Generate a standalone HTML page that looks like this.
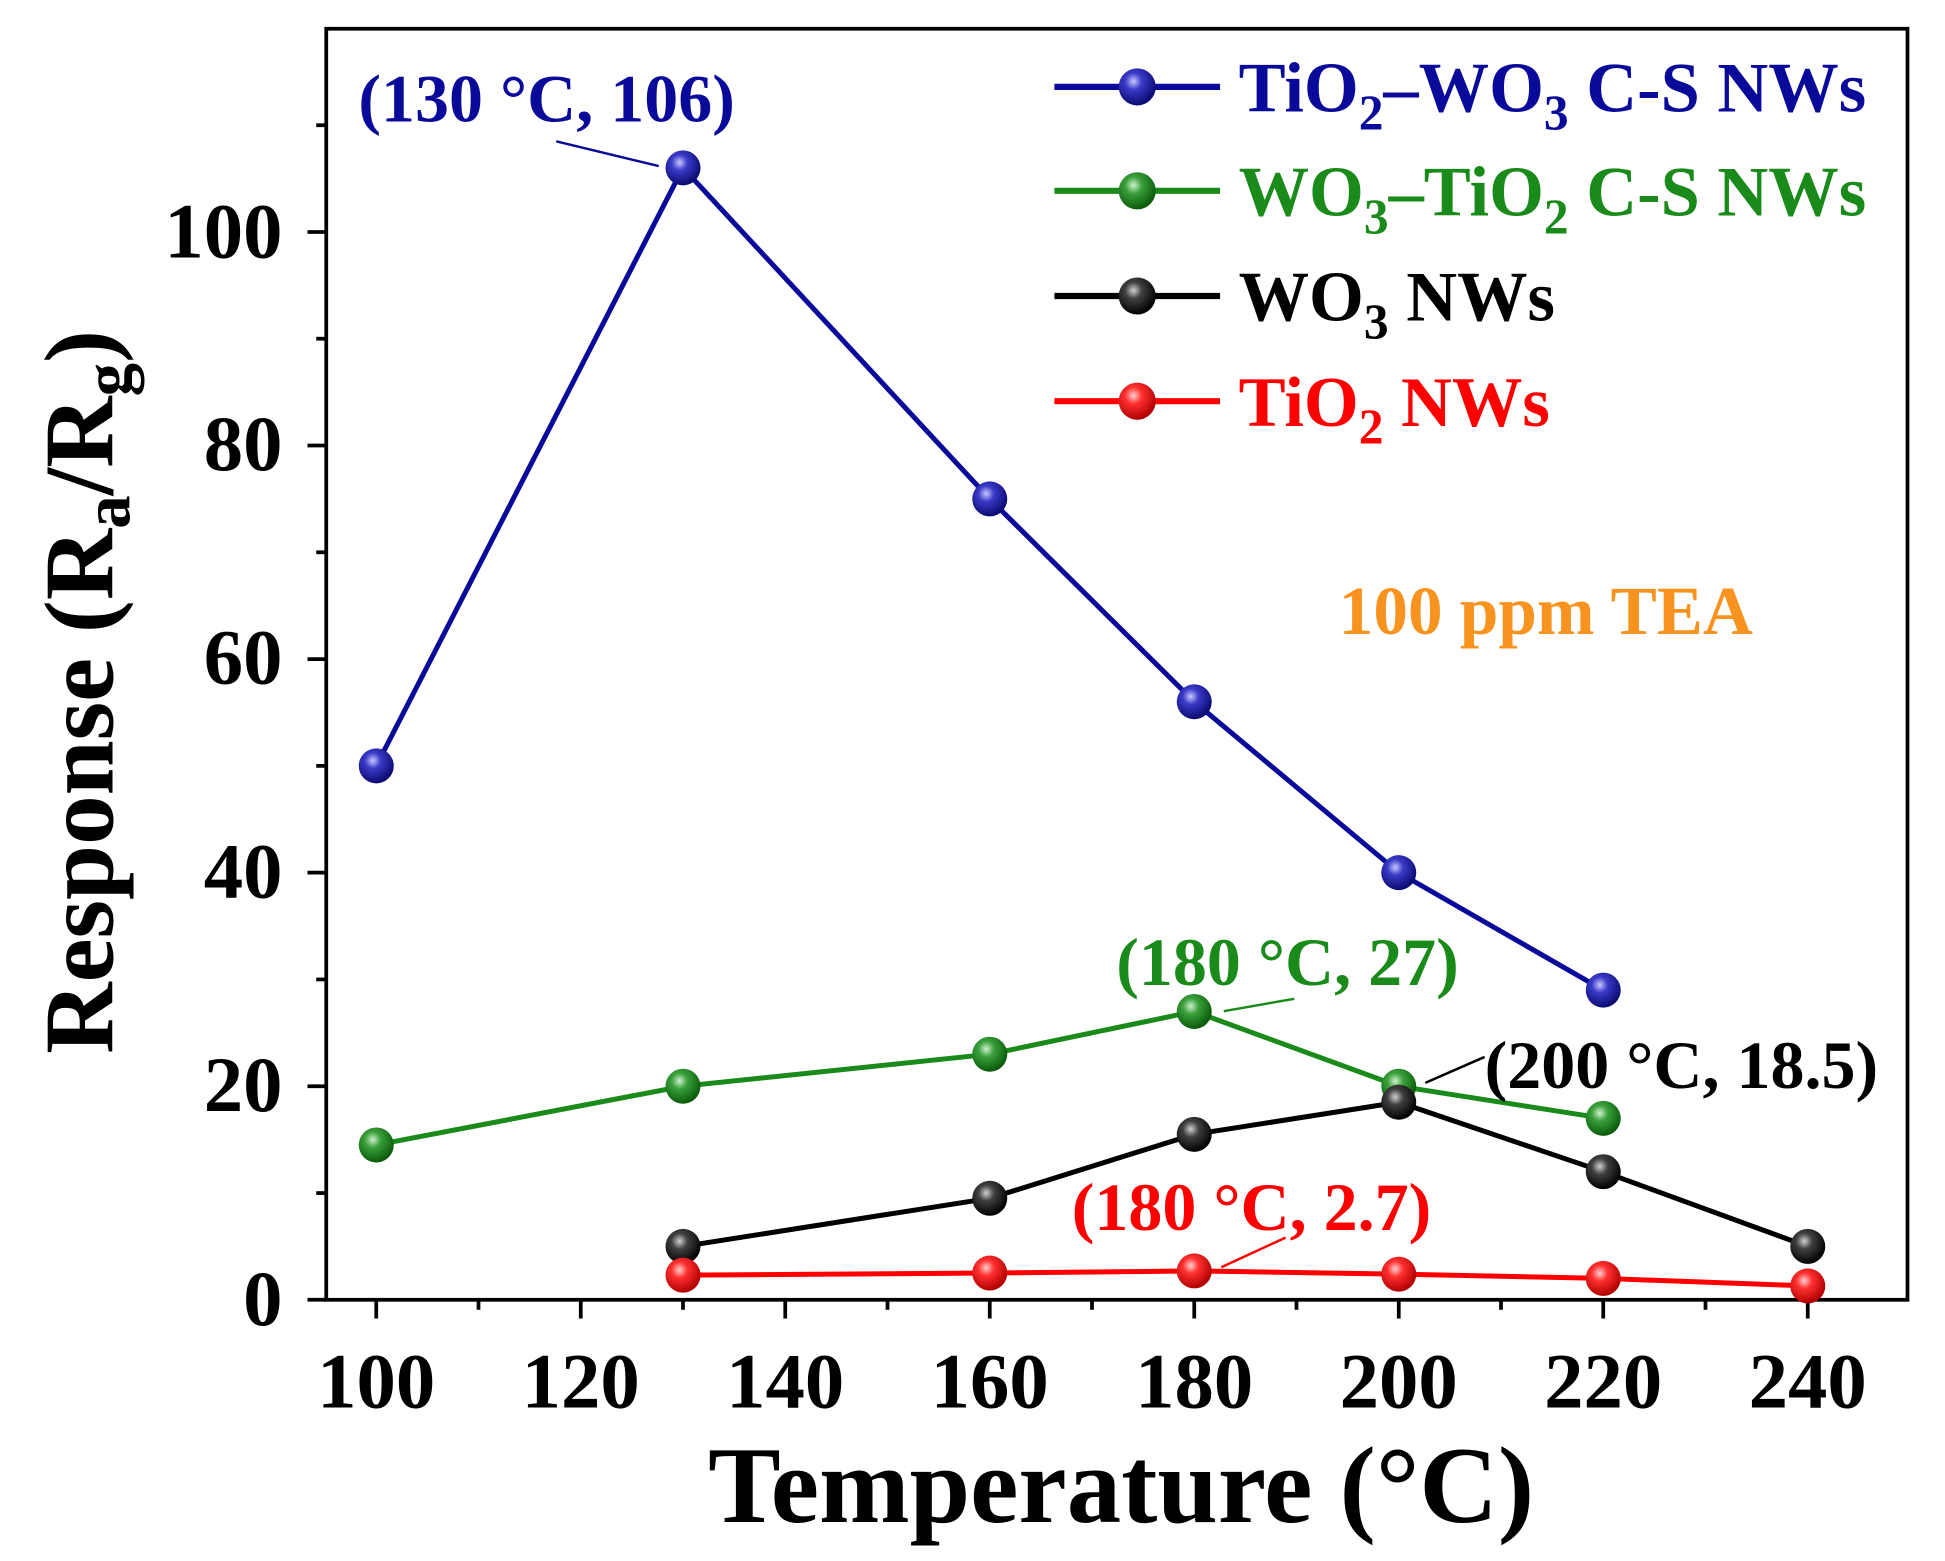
<!DOCTYPE html>
<html><head><meta charset="utf-8"><style>html,body{margin:0;padding:0;background:#fff}svg{display:block}</style></head>
<body>
<svg width="1945" height="1561" viewBox="0 0 1556 1249" preserveAspectRatio="none" font-family="'Liberation Serif', serif" font-weight="bold">
<defs>
<radialGradient id="gb" cx="40%" cy="35%" r="65%"><stop offset="0" stop-color="#c8c8ff"/><stop offset="0.35" stop-color="#3a3ac8"/><stop offset="1" stop-color="#0a0a70"/></radialGradient>
<radialGradient id="gg" cx="40%" cy="35%" r="65%"><stop offset="0" stop-color="#d0f0d0"/><stop offset="0.35" stop-color="#3aa03a"/><stop offset="1" stop-color="#0a5a0a"/></radialGradient>
<radialGradient id="gk" cx="40%" cy="35%" r="65%"><stop offset="0" stop-color="#d0d0d0"/><stop offset="0.35" stop-color="#404040"/><stop offset="1" stop-color="#000"/></radialGradient>
<radialGradient id="gr" cx="40%" cy="35%" r="65%"><stop offset="0" stop-color="#ffd0d0"/><stop offset="0.35" stop-color="#ff3030"/><stop offset="1" stop-color="#b00000"/></radialGradient>
</defs>
<rect x="261" y="23" width="1265" height="1017" fill="none" stroke="#000" stroke-width="3"/>
<g stroke="#000" stroke-width="3">
<line x1="301" y1="1040" x2="301" y2="1055"/><line x1="464.6" y1="1040" x2="464.6" y2="1055"/><line x1="628.2" y1="1040" x2="628.2" y2="1055"/><line x1="791.8" y1="1040" x2="791.8" y2="1055"/><line x1="955.4" y1="1040" x2="955.4" y2="1055"/><line x1="1119" y1="1040" x2="1119" y2="1055"/><line x1="1282.6" y1="1040" x2="1282.6" y2="1055"/><line x1="1446.2" y1="1040" x2="1446.2" y2="1055"/>
<line x1="382.8" y1="1040" x2="382.8" y2="1048"/><line x1="546.4" y1="1040" x2="546.4" y2="1048"/><line x1="710" y1="1040" x2="710" y2="1048"/><line x1="873.6" y1="1040" x2="873.6" y2="1048"/><line x1="1037.2" y1="1040" x2="1037.2" y2="1048"/><line x1="1200.8" y1="1040" x2="1200.8" y2="1048"/><line x1="1364.4" y1="1040" x2="1364.4" y2="1048"/>
<line x1="246" y1="1040" x2="261" y2="1040"/><line x1="246" y1="869.1" x2="261" y2="869.1"/><line x1="246" y1="698.2" x2="261" y2="698.2"/><line x1="246" y1="527.4" x2="261" y2="527.4"/><line x1="246" y1="356.5" x2="261" y2="356.5"/><line x1="246" y1="185.6" x2="261" y2="185.6"/>
<line x1="253" y1="954.6" x2="261" y2="954.6"/><line x1="253" y1="783.7" x2="261" y2="783.7"/><line x1="253" y1="612.8" x2="261" y2="612.8"/><line x1="253" y1="441.9" x2="261" y2="441.9"/><line x1="253" y1="271" x2="261" y2="271"/><line x1="253" y1="100.2" x2="261" y2="100.2"/>
</g>
<g font-size="63" text-anchor="middle">
<text x="301" y="1126">100</text><text x="464.6" y="1126">120</text><text x="628.2" y="1126">140</text><text x="791.8" y="1126">160</text><text x="955.4" y="1126">180</text><text x="1119" y="1126">200</text><text x="1282.6" y="1126">220</text><text x="1446.2" y="1126">240</text>
</g>
<g font-size="63" text-anchor="end">
<text x="226" y="1060">0</text><text x="226" y="889">20</text><text x="226" y="718">40</text><text x="226" y="547">60</text><text x="226" y="376">80</text><text x="226" y="206">100</text>
</g>
<polyline points="301,612.8 546.4,134.3 791.8,399.2 955.4,561.5 1119,698.2 1282.6,792.2" fill="none" stroke="#0a0a9a" stroke-width="4"/>
<polyline points="301,916.1 546.4,869.1 791.8,843.5 955.4,809.3 1119,869.1 1282.6,894.8" fill="none" stroke="#1a8a1a" stroke-width="4"/>
<polyline points="546.4,997.3 791.8,958.8 955.4,907.6 1119,881.9 1282.6,937.5 1446.2,997.3" fill="none" stroke="#000" stroke-width="4"/>
<polyline points="546.4,1020.3 791.8,1018.6 955.4,1016.9 1119,1019.5 1282.6,1022.9 1446.2,1028.9" fill="none" stroke="#f00" stroke-width="4"/>
<g fill="url(#gb)"><circle cx="301" cy="612.8" r="14"/><circle cx="546.4" cy="134.3" r="14"/><circle cx="791.8" cy="399.2" r="14"/><circle cx="955.4" cy="561.5" r="14"/><circle cx="1119" cy="698.2" r="14"/><circle cx="1282.6" cy="792.2" r="14"/></g>
<g fill="url(#gg)"><circle cx="301" cy="916.1" r="14"/><circle cx="546.4" cy="869.1" r="14"/><circle cx="791.8" cy="843.5" r="14"/><circle cx="955.4" cy="809.3" r="14"/><circle cx="1119" cy="869.1" r="14"/><circle cx="1282.6" cy="894.8" r="14"/></g>
<g fill="url(#gk)"><circle cx="546.4" cy="997.3" r="14"/><circle cx="791.8" cy="958.8" r="14"/><circle cx="955.4" cy="907.6" r="14"/><circle cx="1119" cy="881.9" r="14"/><circle cx="1282.6" cy="937.5" r="14"/><circle cx="1446.2" cy="997.3" r="14"/></g>
<g fill="url(#gr)"><circle cx="546.4" cy="1020.3" r="14"/><circle cx="791.8" cy="1018.6" r="14"/><circle cx="955.4" cy="1016.9" r="14"/><circle cx="1119" cy="1019.5" r="14"/><circle cx="1282.6" cy="1022.9" r="14"/><circle cx="1446.2" cy="1028.9" r="14"/></g>
<g transform="translate(261,23) scale(0.989,0.99) translate(-259,-21)">
<text x="902" y="1228" font-size="88" text-anchor="middle">Temperature (°C)</text>
<text transform="translate(86,557) rotate(-90)" font-size="80" text-anchor="middle">Response (R<tspan font-size="54" dy="14">a</tspan><tspan dy="-14">/R</tspan><tspan font-size="54" dy="14">g</tspan><tspan dy="-14">)</tspan></text>
<line x1="848" y1="68" x2="982" y2="68" stroke="#0a0a9a" stroke-width="5"/><circle cx="915" cy="68" r="15" fill="url(#gb)"/>
<line x1="848" y1="152" x2="982" y2="152" stroke="#1a8a1a" stroke-width="5"/><circle cx="915" cy="152" r="15" fill="url(#gg)"/>
<line x1="848" y1="237" x2="982" y2="237" stroke="#000" stroke-width="5"/><circle cx="915" cy="237" r="15" fill="url(#gk)"/>
<line x1="848" y1="322" x2="982" y2="322" stroke="#f00" stroke-width="5"/><circle cx="915" cy="322" r="15" fill="url(#gr)"/>
<g font-size="57">
<text x="997" y="88" fill="#0a0a9a">TiO<tspan font-size="40" dy="14">2</tspan><tspan dy="-14">–WO</tspan><tspan font-size="40" dy="14">3</tspan><tspan dy="-14"> C-S NWs</tspan></text>
<text x="997" y="172" fill="#1a8a1a">WO<tspan font-size="40" dy="14">3</tspan><tspan dy="-14">–TiO</tspan><tspan font-size="40" dy="14">2</tspan><tspan dy="-14"> C-S NWs</tspan></text>
<text x="997" y="257" fill="#000">WO<tspan font-size="40" dy="14">3</tspan><tspan dy="-14"> NWs</tspan></text>
<text x="997" y="342" fill="#f00">TiO<tspan font-size="40" dy="14">2</tspan><tspan dy="-14"> NWs</tspan></text>
</g>
<text x="1078" y="510" font-size="56" fill="#f7931e">100 ppm TEA</text>
<g font-size="55">
<text x="285" y="96" fill="#0a0a9a">(130 °C, 106)</text>
<text x="898" y="794" fill="#1a8a1a">(180 °C, 27)</text>
<text x="1196" y="877" fill="#000">(200 °C, 18.5)</text>
<text x="862" y="992" fill="#f00">(180 °C, 2.7)</text>
</g>
<line x1="445" y1="112" x2="528" y2="132" stroke="#0a0a9a" stroke-width="2"/>
<line x1="985" y1="815" x2="1042" y2="805" stroke="#1a8a1a" stroke-width="2"/>
<line x1="1148" y1="873" x2="1196" y2="852" stroke="#000" stroke-width="2"/>
<line x1="983" y1="1022" x2="1035" y2="998" stroke="#f00" stroke-width="2"/>
</g>
</svg>
</body></html>
